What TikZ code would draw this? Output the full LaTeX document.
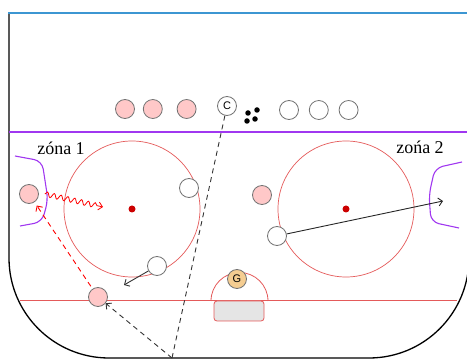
\documentclass[tikz,border=0pt]{standalone}
\usepackage{fontspec}
\setmainfont{Liberation Serif}
\setsansfont{Liberation Sans}
\usetikzlibrary{positioning,decorations.pathmorphing,arrows.meta}

\definecolor{rinkred}{RGB}{228,90,90}
\definecolor{blueline}{RGB}{160,55,240}
\definecolor{topblue}{RGB}{60,150,210}
\definecolor{homefill}{RGB}{255,200,200}
\definecolor{goalfill}{RGB}{245,205,145}

\tikzset{
  home/.style={draw=gray!90!black,fill=homefill,circle,minimum size=19pt,inner sep=0pt,line width=0.8pt},
  away/.style={home,fill=white},
  goalie/.style={home,fill=goalfill,font=\sffamily\fontsize{11}{11}\selectfont},
  spot/.style={circle,fill=red!80!black,minimum size=7pt,inner sep=0pt},
  puck/.style={circle,fill=black,minimum size=5.5pt,inner sep=0pt},
  pass/.style={->,dash pattern=on 5pt off 4pt,line width=0.9pt},
  zone/.style={font=\fontsize{18}{18}\selectfont},
}

\begin{document}
\begin{tikzpicture}[x=1pt,y=-1pt,>={Straight Barb[length=4pt,width=8pt]}]
\useasboundingbox (0,0) rectangle (467,361);

% rink
\draw[line width=1.3pt,rounded corners=100pt] (9,13) -- (9,358) -- (469,358) -- (469,13);
\draw[topblue,line width=2.5pt] (8,13) -- (467,13);
\draw[blueline,line width=1.3pt] (9,132) -- (467,132);
\draw[rinkred,line width=1pt] (20,301) -- (457,301);

\draw[rinkred,line width=0.7pt] (132,209) circle[radius=68];
\draw[rinkred,line width=0.7pt] (346,209) circle[radius=68];
\node[spot](s1) at (132,209) {};
\node[spot](s2) at (346,209) {};

\draw[blueline,line width=1.1pt,rounded corners=8pt] (15,156) -- (42,161) -- (48,200) -- (42,222) -- (20,226);
\draw[blueline,line width=1.1pt,rounded corners=8pt] (462,162) -- (435,168) -- (429,195) -- (431,222) -- (459,228);

\draw[rinkred,line width=0.8pt] (211,301) arc[start angle=180,end angle=360,radius=28.5];
\draw[rinkred,fill=gray!20,line width=0.8pt,rounded corners=3pt] (214,301) rectangle (264,321);

\node[zone](z1) at (61,148) {zóna 1};
\node[zone](z2) at (420,147) {zońa 2};

% players on the bench line
\node[home](h1) at (125,109) {};
\node[home,right=8pt of h1](h2) {};
\node[home,right=14pt of h2](h3) {};
\node[away,font=\sffamily\fontsize{11}{11}\selectfont](c) at (227,106) {C};
\node[away](a1) at (289,110) {};
\node[away,right=10pt of a1](a2) {};
\node[away,right=10pt of a2](a3) {};

\node[puck](p1) at (248,113) {};
\node[puck](p2) at (257,110) {};
\node[puck](p3) at (247,121) {};
\node[puck](p4) at (255,119) {};

% players on the ice
\node[home](lw) at (29,194) {};
\node[away](d1) at (189,188) {};
\node[away](d2) at (157,266) {};
\node[home](rw) at (262,195) {};
\node[away](d3) at (277,236) {};
\node[home](lp) at (98,297) {};
\node[goalie](g) at (237,279) {G};

\coordinate (shot) at (103,207);
\coordinate (back) at (124,285);
\coordinate (far) at (443,201);
\coordinate (turn) at (172,358);

\draw[->,red,line width=0.8pt,decorate,
  decoration={snake,amplitude=2.5pt,segment length=7pt,post length=4pt}]
  (lw.east) ++(6pt,0) -- (shot);
\draw[pass,red,shorten <=3pt,shorten >=4pt] (lp) -- (lw);
\draw[->,black!80,line width=0.9pt] (d2) -- (back);
\draw[->,black!85,line width=0.9pt] (d3) -- (far);
\draw[dash pattern=on 5pt off 4pt,black!80,line width=0.9pt] (c) -- (turn);
\draw[pass,black!80] (turn) -- (lp);
\end{tikzpicture}
\end{document}
